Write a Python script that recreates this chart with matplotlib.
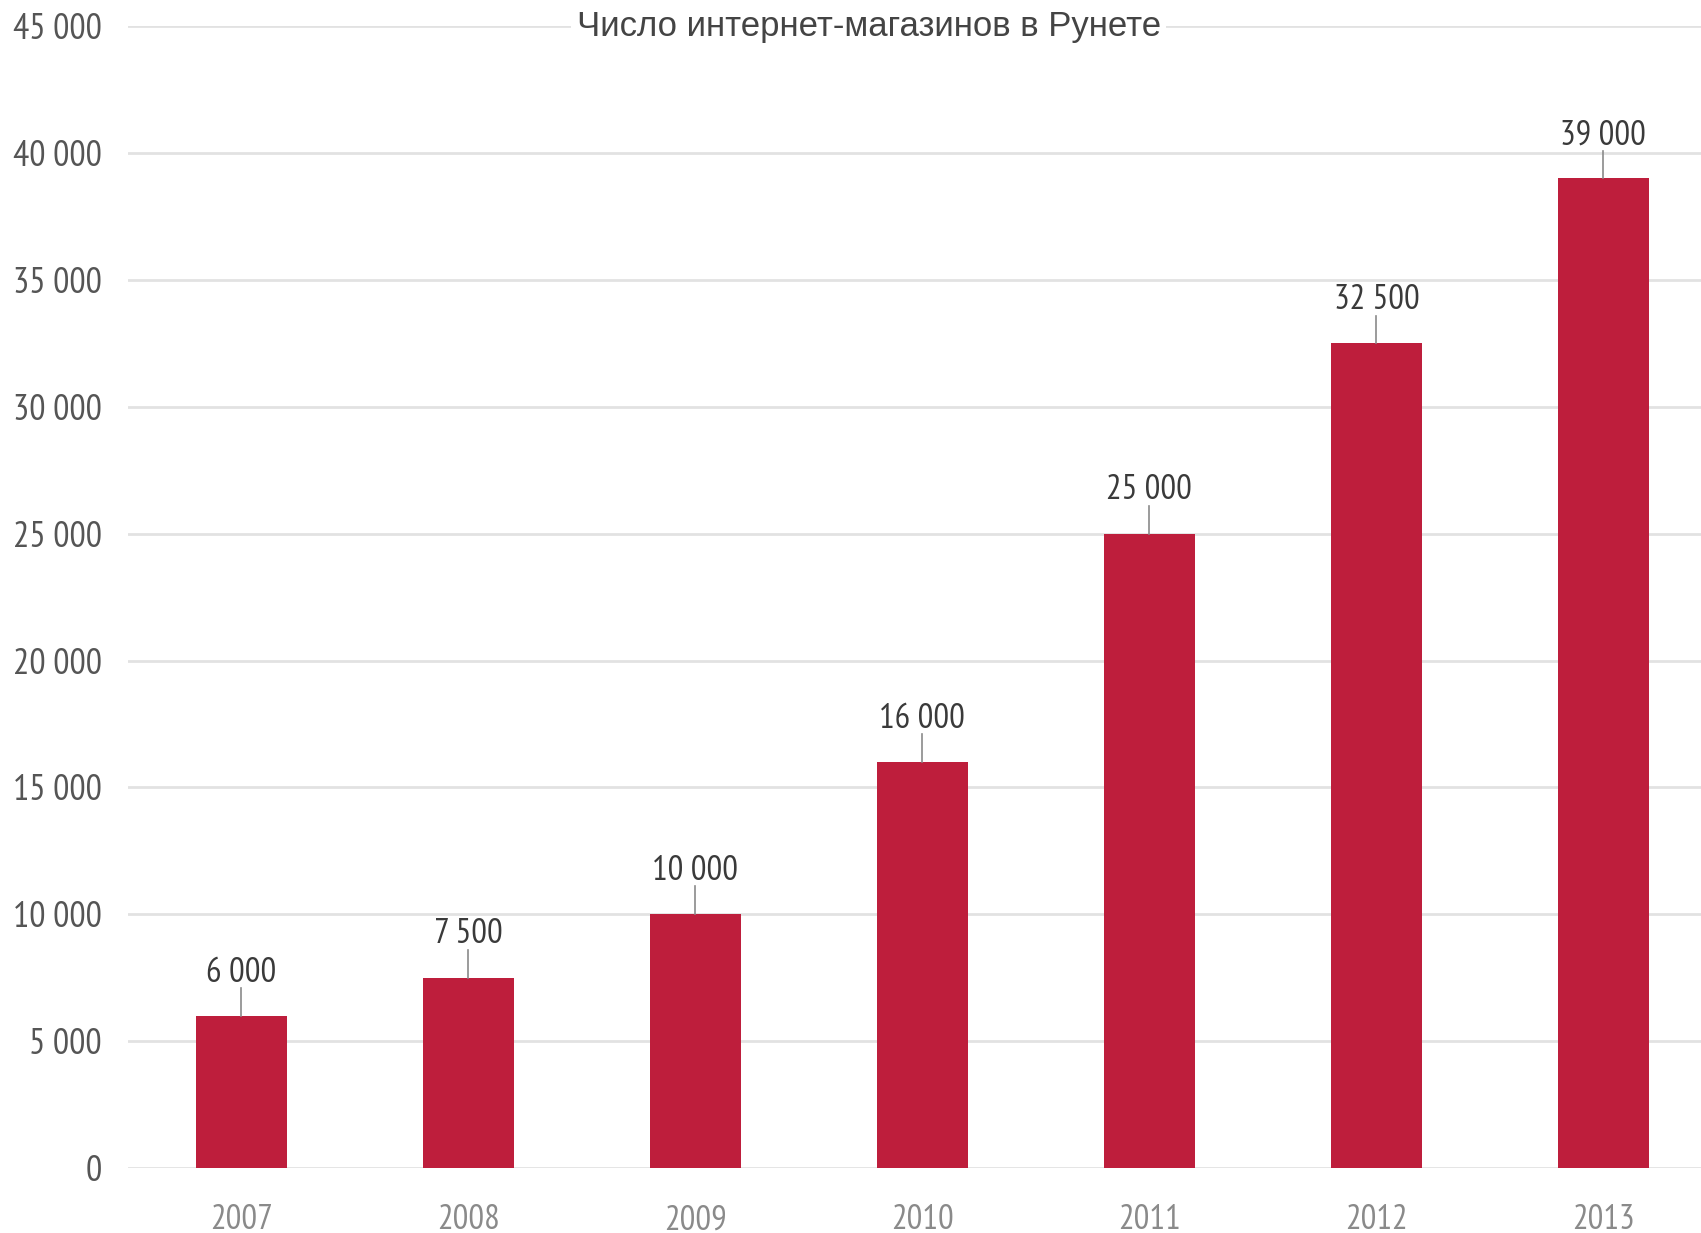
import matplotlib.pyplot as plt
from matplotlib.ticker import FuncFormatter

## data
years = ["2007", "2008", "2009", "2010", "2011", "2012", "2013"]
shops = [6000, 7500, 10000, 16000, 25000, 32500, 39000]
yticks = [0, 5000, 10000, 15000, 20000, 25000, 30000, 35000, 40000, 45000]
title = "Число интернет-магазинов в Рунете"

bar_color = "#be1e3c"
narrow = ["PT Sans Narrow", "Liberation Sans", "DejaVu Sans"]


def spaced(v):
    return f"{int(v):,}".replace(",", " ")


fig = plt.figure(figsize=(17.01, 12.33), dpi=100)
ax = fig.add_axes([0.0752, 0.0527, 0.9248, 0.926])

x = range(len(years))
ax.bar(x, shops, width=0.4, color=bar_color, zorder=3)

## little leader line + value on top of each bar
for i, v in zip(x, shops):
    ax.plot([i, i], [v, v + 1100], color="#8a8a8a", lw=1.2, zorder=3)
    ax.text(i, v + 1350, spaced(v), ha="center", va="baseline",
            fontsize=25, color="#3a3a3a", family=narrow)

ax.set_xlim(-0.5, 6.43)
ax.set_ylim(0, 45000)
ax.set_yticks(yticks)
ax.yaxis.set_major_formatter(FuncFormatter(lambda v, p: spaced(v)))
ax.set_xticks(list(x))
ax.set_xticklabels(years)

ax.grid(axis="y", color="#e2e2e2", lw=2, zorder=0)
ax.set_axisbelow(True)
for s in ax.spines.values():
    s.set_visible(False)
ax.tick_params(axis="both", length=0)
ax.tick_params(axis="y", pad=19, labelsize=26, labelcolor="#555555")
ax.tick_params(axis="x", pad=26, labelsize=25, labelcolor="#8a8a8a")
for lab in ax.get_yticklabels() + ax.get_xticklabels():
    lab.set_family(narrow)

# title sits on the top gridline, white box cuts the line under it
ax.text(0.471, 45000, title, ha="center", va="center", fontsize=25,
        color="#444444", family=["Liberation Sans", "DejaVu Sans"],
        transform=ax.get_yaxis_transform(),
        bbox=dict(facecolor="white", edgecolor="none", pad=4), zorder=4,
        clip_on=False)

fig.savefig("out.png", dpi=100)
